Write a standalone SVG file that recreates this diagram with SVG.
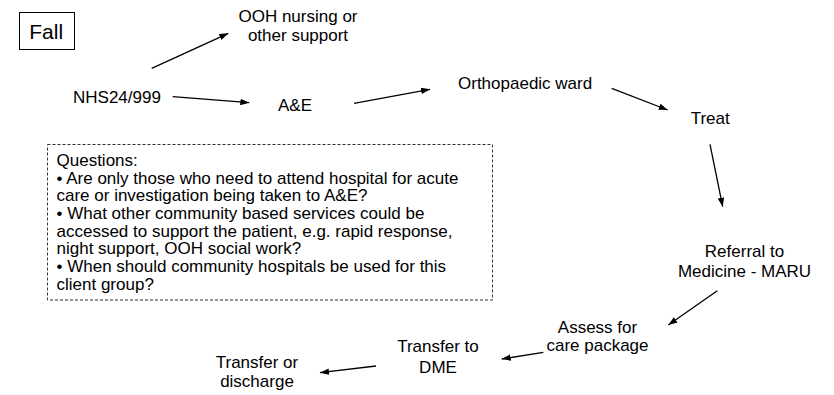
<svg xmlns="http://www.w3.org/2000/svg" width="834" height="395" viewBox="0 0 834 395">
  <style>
    text { font-family: "Liberation Sans", Arial, sans-serif; font-size: 17px; fill: #000; }
    .mid { text-anchor: middle; }
    .edge { stroke: #000; stroke-width: 1.3; fill: none; marker-end: url(#arrow); }
  </style>
  <defs>
    <marker id="arrow" markerUnits="userSpaceOnUse" markerWidth="9" markerHeight="6.5" refX="9" refY="3.25" orient="auto">
      <path d="M0,0 L9,3.25 L0,6.5 z" fill="#000"/>
    </marker>
  </defs>
  <rect width="834" height="395" fill="#fff"/>

  <g id="fall">
    <rect x="19.5" y="12.5" width="55" height="37" fill="none" stroke="#000" stroke-width="1"/>
    <text x="29.3" y="39.3" style="font-size:21px">Fall</text>
  </g>

  <g id="ooh">
    <text class="mid" x="298" y="21.5">OOH nursing or</text>
    <text class="mid" x="298" y="40.5">other support</text>
  </g>
  <g id="nhs24"><text x="73" y="103">NHS24/999</text></g>
  <g id="ae"><text x="278" y="110.5">A&amp;E</text></g>
  <g id="ortho"><text x="458" y="89">Orthopaedic ward</text></g>
  <g id="treat"><text x="690.7" y="124.3">Treat</text></g>
  <g id="referral">
    <text class="mid" x="744.5" y="257">Referral to</text>
    <text class="mid" x="744.5" y="276.5">Medicine - MARU</text>
  </g>
  <g id="assess">
    <text class="mid" x="597.5" y="332.5">Assess for</text>
    <text class="mid" x="597.5" y="351">care package</text>
  </g>
  <g id="dme">
    <text class="mid" x="438" y="352">Transfer to</text>
    <text class="mid" x="438" y="373">DME</text>
  </g>
  <g id="discharge">
    <text class="mid" x="257" y="368">Transfer or</text>
    <text class="mid" x="257" y="387">discharge</text>
  </g>

  <g id="questions">
    <rect x="47.5" y="144.5" width="445" height="155.5" fill="none" stroke="#333" stroke-width="1" stroke-dasharray="3,2"/>
    <text x="56.5" y="166">Questions:</text>
    <text x="56.5" y="183.6">• Are only those who need to attend hospital for acute</text>
    <text x="56.5" y="201.3">care or investigation being taken to A&amp;E?</text>
    <text x="56.5" y="219">• What other community based services could be</text>
    <text x="56.5" y="236.6">accessed to support the patient, e.g. rapid response,</text>
    <text x="56.5" y="254.3">night support, OOH social work?</text>
    <text x="56.5" y="272">• When should community hospitals be used for this</text>
    <text x="56.5" y="289.6">client group?</text>
  </g>

  <g id="connectors">
    <line class="edge" x1="151.7" y1="68.3" x2="228.3" y2="33.3"/>
    <line class="edge" x1="172.7" y1="96.7" x2="249.3" y2="102.7"/>
    <line class="edge" x1="354" y1="103.3" x2="430" y2="89.3"/>
    <line class="edge" x1="611.7" y1="88.3" x2="667.7" y2="110"/>
    <line class="edge" x1="710" y1="144.3" x2="722.7" y2="206.7"/>
    <line class="edge" x1="717.3" y1="290.7" x2="668.3" y2="325"/>
    <line class="edge" x1="543.3" y1="352.3" x2="501.7" y2="359"/>
    <line class="edge" x1="376" y1="366" x2="320" y2="372.7"/>
  </g>
</svg>
